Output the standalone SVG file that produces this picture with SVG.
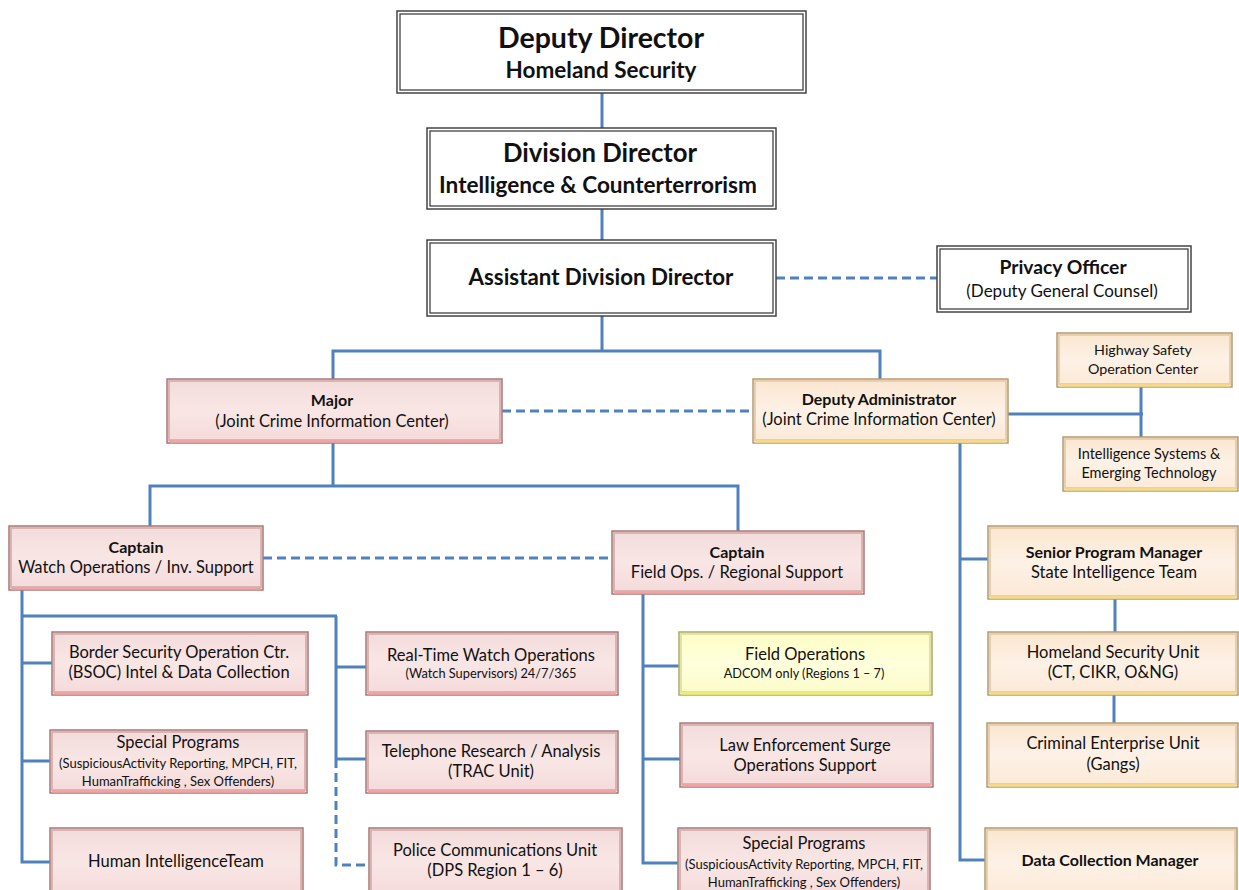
<svg xmlns="http://www.w3.org/2000/svg" width="1239" height="890" viewBox="0 0 1239 890">
  <defs>
    <linearGradient id="gPink" x1="0" y1="0" x2="0" y2="1">
      <stop offset="0" stop-color="#f3dcdb"/>
      <stop offset="0.5" stop-color="#f8e6e5"/>
      <stop offset="1" stop-color="#f5dada"/>
    </linearGradient>
    <linearGradient id="gTan" x1="0" y1="0" x2="0" y2="1">
      <stop offset="0" stop-color="#fbe6cf"/>
      <stop offset="0.5" stop-color="#fdf1e6"/>
      <stop offset="1" stop-color="#fce9d6"/>
    </linearGradient>
    <linearGradient id="gYel" x1="0" y1="0" x2="0" y2="1">
      <stop offset="0" stop-color="#fdfdc4"/>
      <stop offset="0.5" stop-color="#ffffdc"/>
      <stop offset="1" stop-color="#fbfbc8"/>
    </linearGradient>
  </defs>
  <style>
    text { font-family: Lato, "Liberation Sans", sans-serif; fill: #111; text-anchor: middle; font-size: 16.5px; }
    .b { font-weight: bold; }
    .h { font-weight: bold; font-size: 16px; }
    .sm { font-size: 13px; }
    .conn line, .conn polyline { stroke: #4f81bd; stroke-width: 3; fill: none; }
    .conn .dash { stroke-dasharray: 9 5; }
    .outer { fill: #fff; stroke: #444; stroke-width: 1.5; }
    .inner { fill: none; stroke: #333; stroke-width: 1.2; }
    .pink { fill: url(#gPink); stroke: #a87878; stroke-width: 1.5; }
    .pink-lo { stroke: #f2a2a2; stroke-width: 2.5; }
    .pink-sh { fill: none; stroke: #d9b4b3; stroke-width: 2; }
    .tan { fill: url(#gTan); stroke: #b59a74; stroke-width: 1.5; }
    .tan-lo { stroke: #f7da84; stroke-width: 2.5; }
    .tan-sh { fill: none; stroke: #e5cfaf; stroke-width: 2; }
    .yel { fill: url(#gYel); stroke: #aaaa66; stroke-width: 1.5; }
    .yel-lo { stroke: #eeee70; stroke-width: 2.5; }
    .yel-sh { fill: none; stroke: #e2e2a6; stroke-width: 2; }
  </style>

  <rect width="1239" height="890" fill="#fff"/>

  <!-- connectors -->
  <g id="connectors" class="conn">
    <line x1="602" y1="93" x2="602" y2="128"/>
    <line x1="602" y1="209" x2="602" y2="240"/>
    <line class="dash" x1="776" y1="278" x2="937" y2="278"/>
    <line x1="602" y1="316" x2="602" y2="351"/>
    <polyline points="333,379 333,351 880,351 880,379"/>
    <line class="dash" x1="502" y1="411" x2="753" y2="411"/>
    <line x1="1008" y1="414" x2="1143" y2="414"/>
    <line x1="1141" y1="387" x2="1141" y2="437"/>
    <line x1="333" y1="443" x2="333" y2="486"/>
    <polyline points="150,526 150,486 738,486 738,531"/>
    <line class="dash" x1="263" y1="558" x2="612" y2="558"/>
    <polyline points="22,590 22,862 50,862"/>
    <line x1="22" y1="616" x2="337" y2="616"/>
    <line x1="336" y1="616" x2="336" y2="759"/>
    <polyline class="dash" points="336,759 336,865 369,865"/>
    <line x1="22" y1="663" x2="52" y2="663"/>
    <line x1="22" y1="761" x2="50" y2="761"/>
    <line x1="336" y1="667" x2="366" y2="667"/>
    <line x1="336" y1="759" x2="366" y2="759"/>
    <polyline points="643,594 643,863 678,863"/>
    <line x1="643" y1="666" x2="679" y2="666"/>
    <line x1="643" y1="759" x2="680" y2="759"/>
    <polyline points="960,443 960,860 985,860"/>
    <line x1="960" y1="559" x2="988" y2="559"/>
    <line x1="1115" y1="599" x2="1115" y2="632"/>
    <line x1="1114" y1="695" x2="1114" y2="723"/>
  </g>

  <!-- executive boxes (double border) -->
  <g id="deputy-director">
    <rect class="outer" x="397" y="11" width="409" height="82"/>
    <rect class="inner" x="400" y="14" width="403" height="76"/>
    <text class="b" x="601" y="48" style="font-size:28.5px">Deputy Director</text>
    <text class="b" x="601" y="78" style="font-size:22.5px">Homeland Security</text>
  </g>
  <g id="division-director">
    <rect class="outer" x="427" y="128" width="349" height="81"/>
    <rect class="inner" x="430" y="131" width="343" height="75"/>
    <text class="b" x="600" y="162" style="font-size:25.7px">Division Director</text>
    <text class="b" x="598" y="193" style="font-size:22.6px">Intelligence &amp; Counterterrorism</text>
  </g>
  <g id="assistant-division-director">
    <rect class="outer" x="427" y="240" width="349" height="76"/>
    <rect class="inner" x="430" y="243" width="343" height="70"/>
    <text class="b" x="601" y="285" style="font-size:22.3px">Assistant Division Director</text>
  </g>
  <g id="privacy-officer">
    <rect class="outer" x="937" y="246" width="254" height="66"/>
    <rect class="inner" x="940" y="249" width="248" height="60"/>
    <text class="b" x="1063" y="274" style="font-size:19.3px">Privacy Officer</text>
    <text x="1062" y="297" style="font-size:17px">(Deputy General Counsel)</text>
  </g>

  <!-- JCIC leadership -->
  <g id="major">
    <rect class="pink" x="167" y="379" width="335" height="64"/>
    <rect class="pink-sh" x="169" y="381" width="331" height="59"/>
    <line class="pink-lo" x1="169" y1="441.5" x2="500" y2="441.5"/>
    <text class="h" x="332" y="406">Major</text>
    <text x="332" y="427">(Joint Crime Information Center)</text>
  </g>
  <g id="deputy-administrator">
    <rect class="tan" x="753" y="379" width="255" height="64"/>
    <rect class="tan-sh" x="755" y="381" width="251" height="59"/>
    <line class="tan-lo" x1="755" y1="441.5" x2="1006" y2="441.5"/>
    <text class="h" x="879" y="405">Deputy Administrator</text>
    <text x="879" y="425">(Joint Crime Information Center)</text>
  </g>
  <g id="highway-safety">
    <rect class="tan" x="1057" y="333" width="175" height="54"/>
    <rect class="tan-sh" x="1059" y="335" width="171" height="49"/>
    <line class="tan-lo" x1="1059" y1="385.5" x2="1230" y2="385.5"/>
    <text x="1143" y="355" style="font-size:14.3px">Highway Safety</text>
    <text x="1143" y="374" style="font-size:14.3px">Operation Center</text>
  </g>
  <g id="intel-systems">
    <rect class="tan" x="1063" y="437" width="175" height="54"/>
    <rect class="tan-sh" x="1065" y="439" width="171" height="49"/>
    <line class="tan-lo" x1="1065" y1="489.5" x2="1236" y2="489.5"/>
    <text x="1149" y="459" style="font-size:14.5px">Intelligence Systems &amp;</text>
    <text x="1149" y="478" style="font-size:14.5px">Emerging Technology</text>
  </g>

  <!-- captains -->
  <g id="captain-watch">
    <rect class="pink" x="9" y="526" width="254" height="64"/>
    <rect class="pink-sh" x="11" y="528" width="250" height="59"/>
    <line class="pink-lo" x1="11" y1="588.5" x2="261" y2="588.5"/>
    <text class="h" x="136" y="553">Captain</text>
    <text x="136" y="573">Watch Operations / Inv. Support</text>
  </g>
  <g id="captain-field">
    <rect class="pink" x="612" y="531" width="252" height="63"/>
    <rect class="pink-sh" x="614" y="533" width="248" height="58"/>
    <line class="pink-lo" x1="614" y1="592.5" x2="862" y2="592.5"/>
    <text class="h" x="737" y="558">Captain</text>
    <text x="737" y="578">Field Ops. / Regional Support</text>
  </g>

  <!-- watch operations units -->
  <g id="bsoc">
    <rect class="pink" x="52" y="632" width="256" height="63"/>
    <rect class="pink-sh" x="54" y="634" width="252" height="58"/>
    <line class="pink-lo" x1="54" y1="693.5" x2="306" y2="693.5"/>
    <text x="179" y="658">Border Security Operation Ctr.</text>
    <text x="179" y="678">(BSOC) Intel &amp; Data Collection</text>
  </g>
  <g id="special-programs-watch">
    <rect class="pink" x="50" y="730" width="257" height="63"/>
    <rect class="pink-sh" x="52" y="732" width="253" height="58"/>
    <line class="pink-lo" x1="52" y1="791.5" x2="305" y2="791.5"/>
    <text x="178" y="748">Special Programs</text>
    <text class="sm" x="178" y="768">(SuspiciousActivity Reporting, MPCH, FIT,</text>
    <text class="sm" x="178" y="786">HumanTrafficking , Sex  Offenders)</text>
  </g>
  <g id="human-intelligence">
    <rect class="pink" x="50" y="828" width="253" height="70"/>
    <rect class="pink-sh" x="52" y="830" width="249" height="66"/>
    <text x="176" y="867">Human IntelligenceTeam</text>
  </g>
  <g id="real-time-watch">
    <rect class="pink" x="366" y="632" width="252" height="63"/>
    <rect class="pink-sh" x="368" y="634" width="248" height="58"/>
    <line class="pink-lo" x1="368" y1="693.5" x2="616" y2="693.5"/>
    <text x="491" y="661">Real-Time Watch Operations</text>
    <text x="491" y="678" style="font-size:12.8px">(Watch Supervisors) 24/7/365</text>
  </g>
  <g id="telephone-research">
    <rect class="pink" x="366" y="731" width="252" height="62"/>
    <rect class="pink-sh" x="368" y="733" width="248" height="57"/>
    <line class="pink-lo" x1="368" y1="791.5" x2="616" y2="791.5"/>
    <text x="491" y="757">Telephone Research / Analysis</text>
    <text x="491" y="777">(TRAC Unit)</text>
  </g>
  <g id="police-communications">
    <rect class="pink" x="369" y="828" width="253" height="70"/>
    <rect class="pink-sh" x="371" y="830" width="249" height="66"/>
    <text x="495" y="856">Police Communications Unit</text>
    <text x="495" y="876">(DPS Region 1 – 6)</text>
  </g>

  <!-- field operations units -->
  <g id="field-operations">
    <rect class="yel" x="679" y="632" width="253" height="63"/>
    <rect class="yel-sh" x="681" y="634" width="249" height="58"/>
    <line class="yel-lo" x1="681" y1="693.5" x2="930" y2="693.5"/>
    <text x="805" y="660">Field Operations</text>
    <text x="804" y="678" style="font-size:12.7px">ADCOM only (Regions 1 – 7)</text>
  </g>
  <g id="surge-support">
    <rect class="pink" x="680" y="723" width="253" height="64"/>
    <rect class="pink-sh" x="682" y="725" width="249" height="59"/>
    <line class="pink-lo" x1="682" y1="785.5" x2="931" y2="785.5"/>
    <text x="805" y="751">Law Enforcement Surge</text>
    <text x="805" y="771">Operations Support</text>
  </g>
  <g id="special-programs-field">
    <rect class="pink" x="678" y="828" width="252" height="70"/>
    <rect class="pink-sh" x="680" y="830" width="248" height="66"/>
    <text x="804" y="849">Special Programs</text>
    <text class="sm" x="804" y="869">(SuspiciousActivity Reporting, MPCH, FIT,</text>
    <text class="sm" x="804" y="887">HumanTrafficking , Sex  Offenders)</text>
  </g>

  <!-- state intelligence branch -->
  <g id="senior-program-manager">
    <rect class="tan" x="988" y="526" width="250" height="73"/>
    <rect class="tan-sh" x="990" y="528" width="246" height="68"/>
    <line class="tan-lo" x1="990" y1="597.5" x2="1236" y2="597.5"/>
    <text class="h" x="1114" y="558">Senior Program Manager</text>
    <text x="1114" y="578">State Intelligence Team</text>
  </g>
  <g id="homeland-security-unit">
    <rect class="tan" x="988" y="632" width="250" height="63"/>
    <rect class="tan-sh" x="990" y="634" width="246" height="58"/>
    <line class="tan-lo" x1="990" y1="693.5" x2="1236" y2="693.5"/>
    <text x="1113" y="658">Homeland Security Unit</text>
    <text x="1113" y="678">(CT, CIKR, O&amp;NG)</text>
  </g>
  <g id="criminal-enterprise-unit">
    <rect class="tan" x="987" y="723" width="251" height="64"/>
    <rect class="tan-sh" x="989" y="725" width="247" height="59"/>
    <line class="tan-lo" x1="989" y1="785.5" x2="1236" y2="785.5"/>
    <text x="1113" y="749">Criminal Enterprise Unit</text>
    <text x="1113" y="770">(Gangs)</text>
  </g>
  <g id="data-collection-manager">
    <rect class="tan" x="985" y="828" width="252" height="70"/>
    <rect class="tan-sh" x="987" y="830" width="248" height="66"/>
    <text class="h" x="1110" y="866">Data Collection Manager</text>
  </g>
</svg>
